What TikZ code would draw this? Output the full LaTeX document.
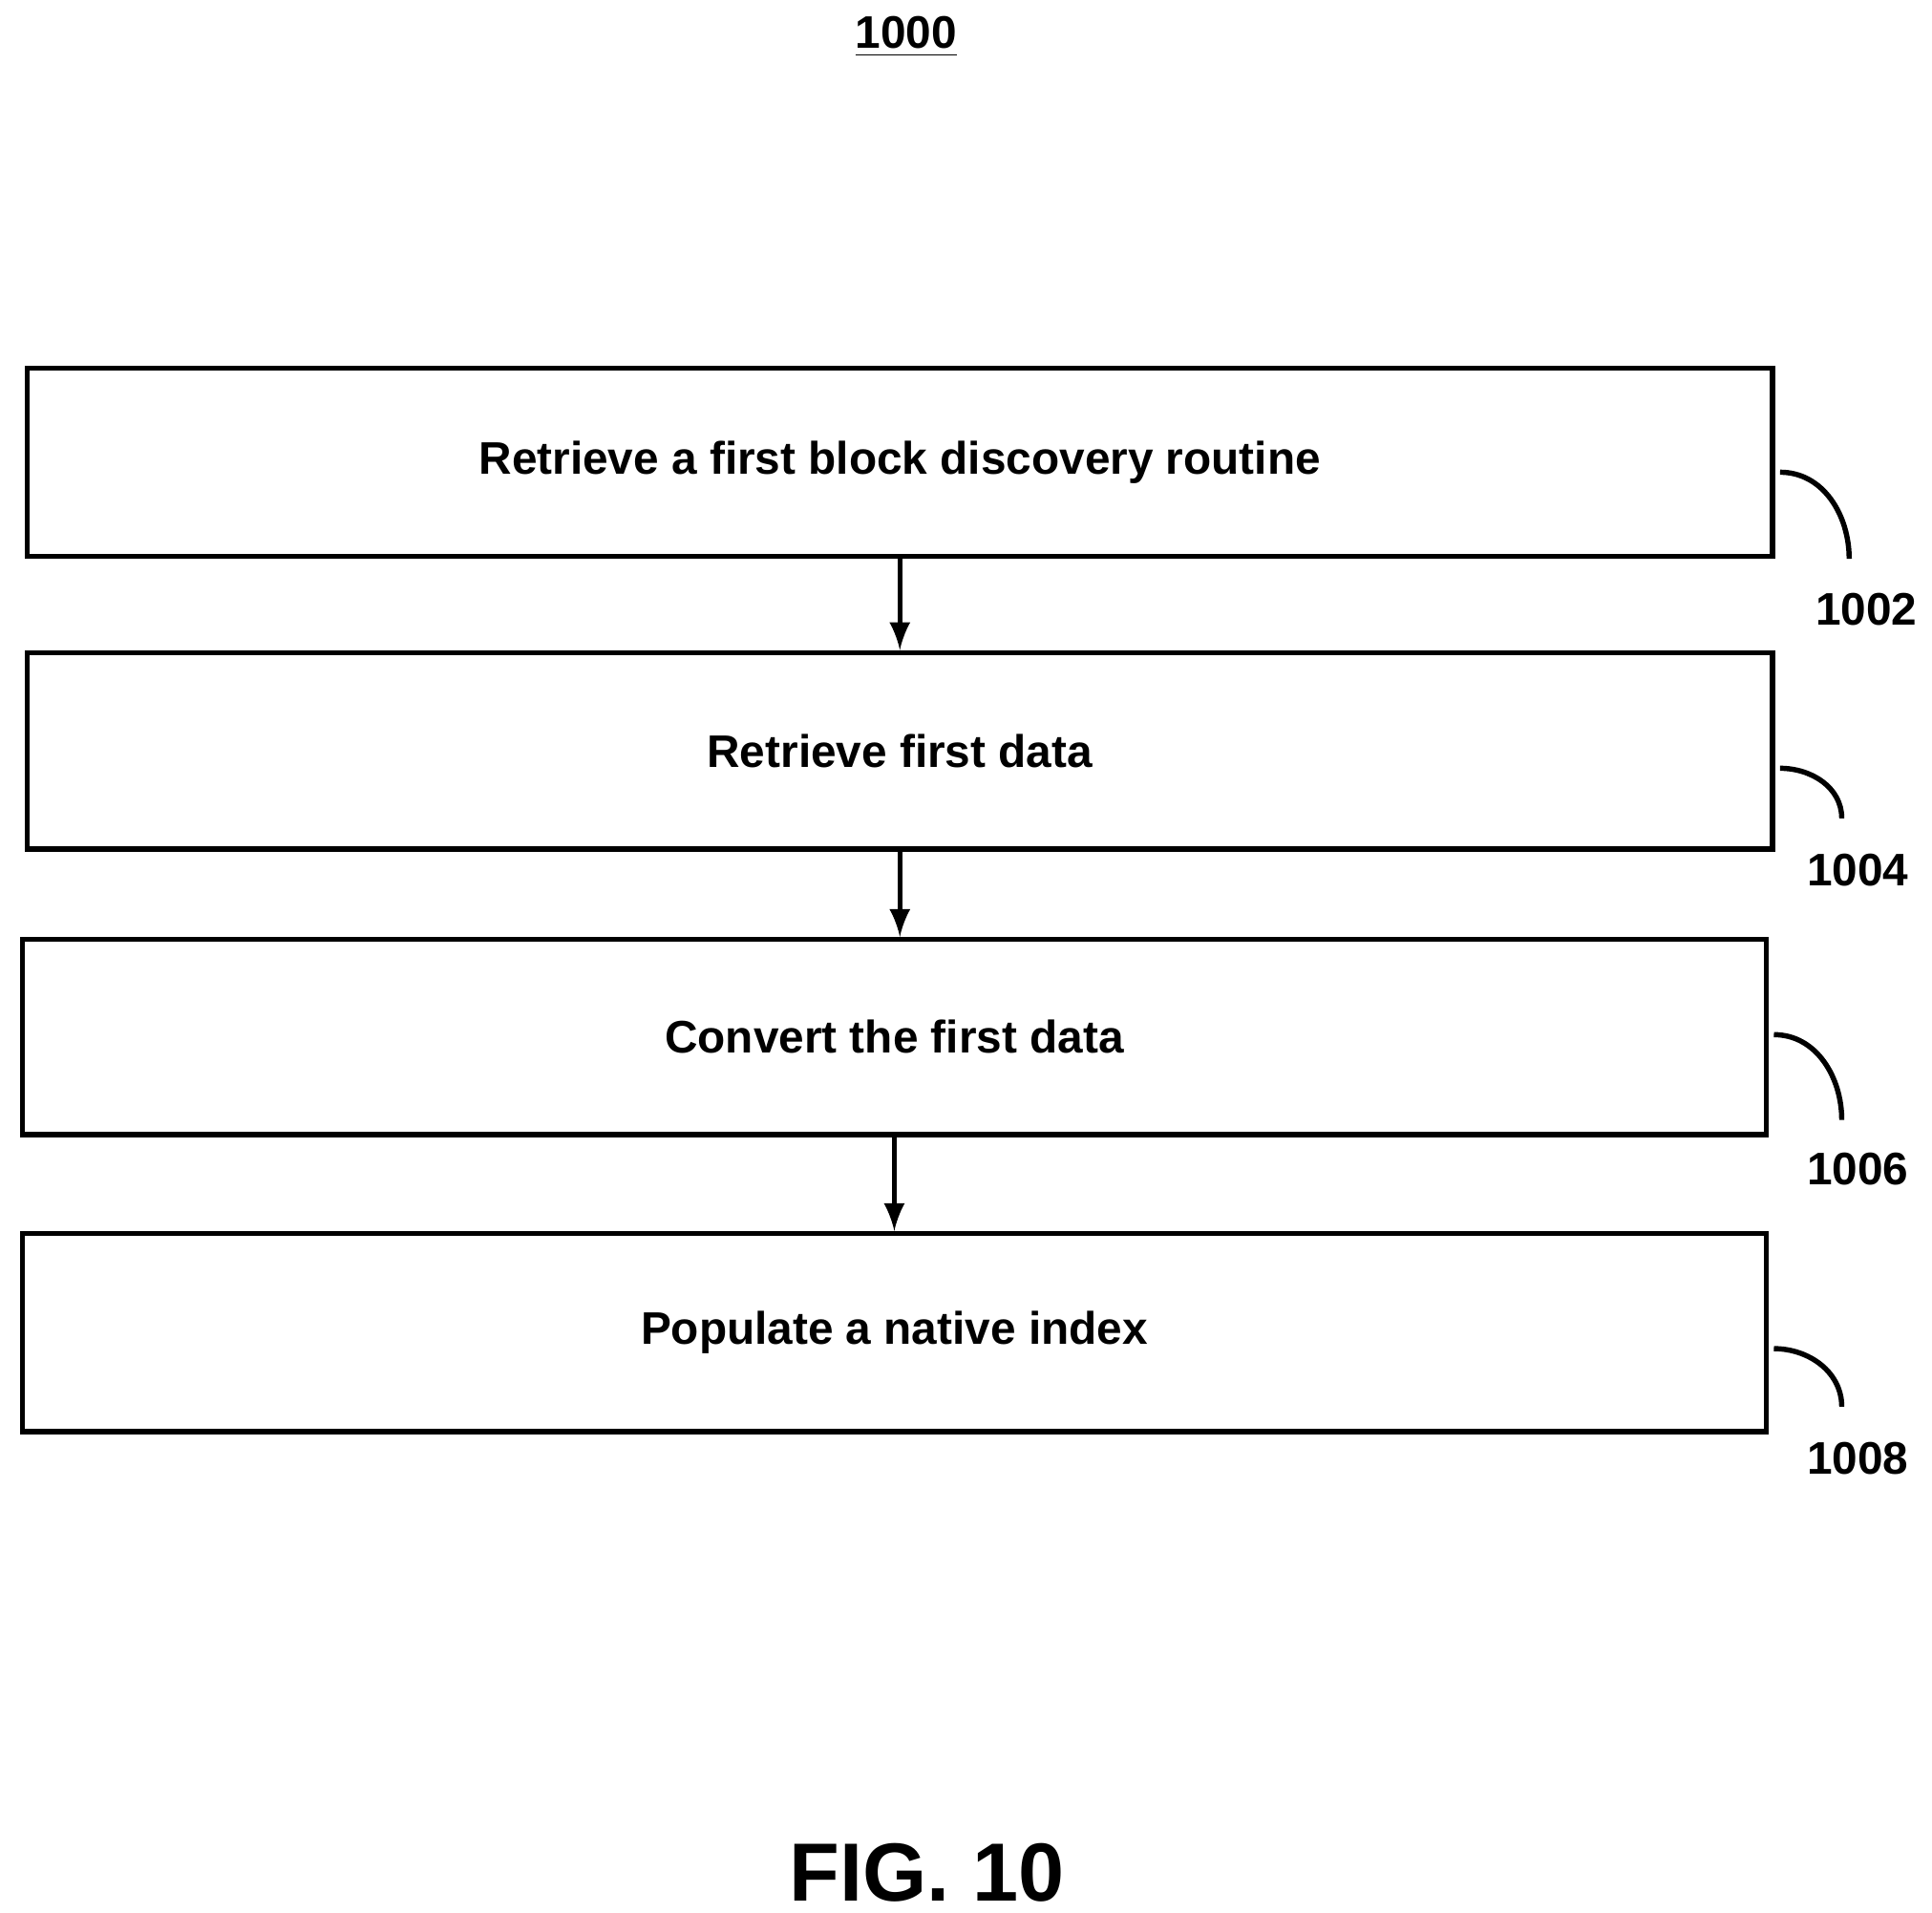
\documentclass[tikz,border=0pt]{standalone}
\usepackage{fontspec}
\setmainfont{Liberation Sans}
\usetikzlibrary{calc}
\usetikzlibrary{positioning}

\tikzset{
  stage/.style={draw, line width=1.2pt, minimum height=1.56cm,
               font=\bfseries\fontsize{10.5}{12}\selectfont, inner sep=0pt},
  ref/.style={font=\bfseries\fontsize{10.5}{12}\selectfont},
  flow/.style={->, >=latex, line width=1.2pt},
  lead/.style={line width=1.2pt}
}

\begin{document}
\begin{tikzpicture}
      \useasboundingbox (0,0) rectangle (15.63,-15.47);

      \node [font=\bfseries\fontsize{10.5}{12}\selectfont] (fignum) at (7.33,-0.3)
            {\underline{1000}};

      \node [stage, minimum width=14.12cm, minimum height=1.52cm] (retrieve)
            at (7.28,-3.74) {Retrieve a first block discovery routine};
      \node [stage, minimum width=14.12cm, minimum height=1.59cm] (data)
            at (7.28,-6.075) {Retrieve first data};
      \node [stage, minimum width=14.11cm, minimum height=1.58cm] (convert)
            at (7.235,-8.39) {Convert the first data};
      \node [stage, minimum width=14.11cm, minimum height=1.60cm] (populate)
            at (7.235,-10.78) {Populate a native index};

      \draw [flow] (retrieve.south) -- (retrieve.south |- data.north);
      \draw [flow] (data.south) -- (data.south |- convert.north);
      \draw [flow] (convert.south -| populate.north) -- (populate.north);

      % reference numerals
      \node [ref] (r1002) at (15.10,-4.93) {1002};
      \node [ref] (r1004) at (15.03,-7.04) {1004};
      \node [ref] (r1006) at (15.03,-9.46) {1006};
      \node [ref] (r1008) at (15.03,-11.80) {1008};

      \coordinate (c1002) at (14.96,-4.52);
      \coordinate (c1004) at (14.90,-6.62);
      \coordinate (c1006) at (14.90,-9.06);
      \coordinate (c1008) at (14.90,-11.38);

      \draw [lead] ($(retrieve.east)+(0.04,-0.08)$) to [out=0, in=90] (c1002);
      \draw [lead] ($(data.east)+(0.04,-0.14)$) to [out=0, in=90] (c1004);
      \draw [lead] ($(convert.east)+(0.04,0.02)$) to [out=0, in=90] (c1006);
      \draw [lead] ($(populate.east)+(0.04,-0.13)$) to [out=0, in=90] (c1008);

      \node [font=\bfseries\fontsize{19}{22}\selectfont] (caption)
            at (7.50,-15.15) {FIG. 10};
\end{tikzpicture}
\end{document}
